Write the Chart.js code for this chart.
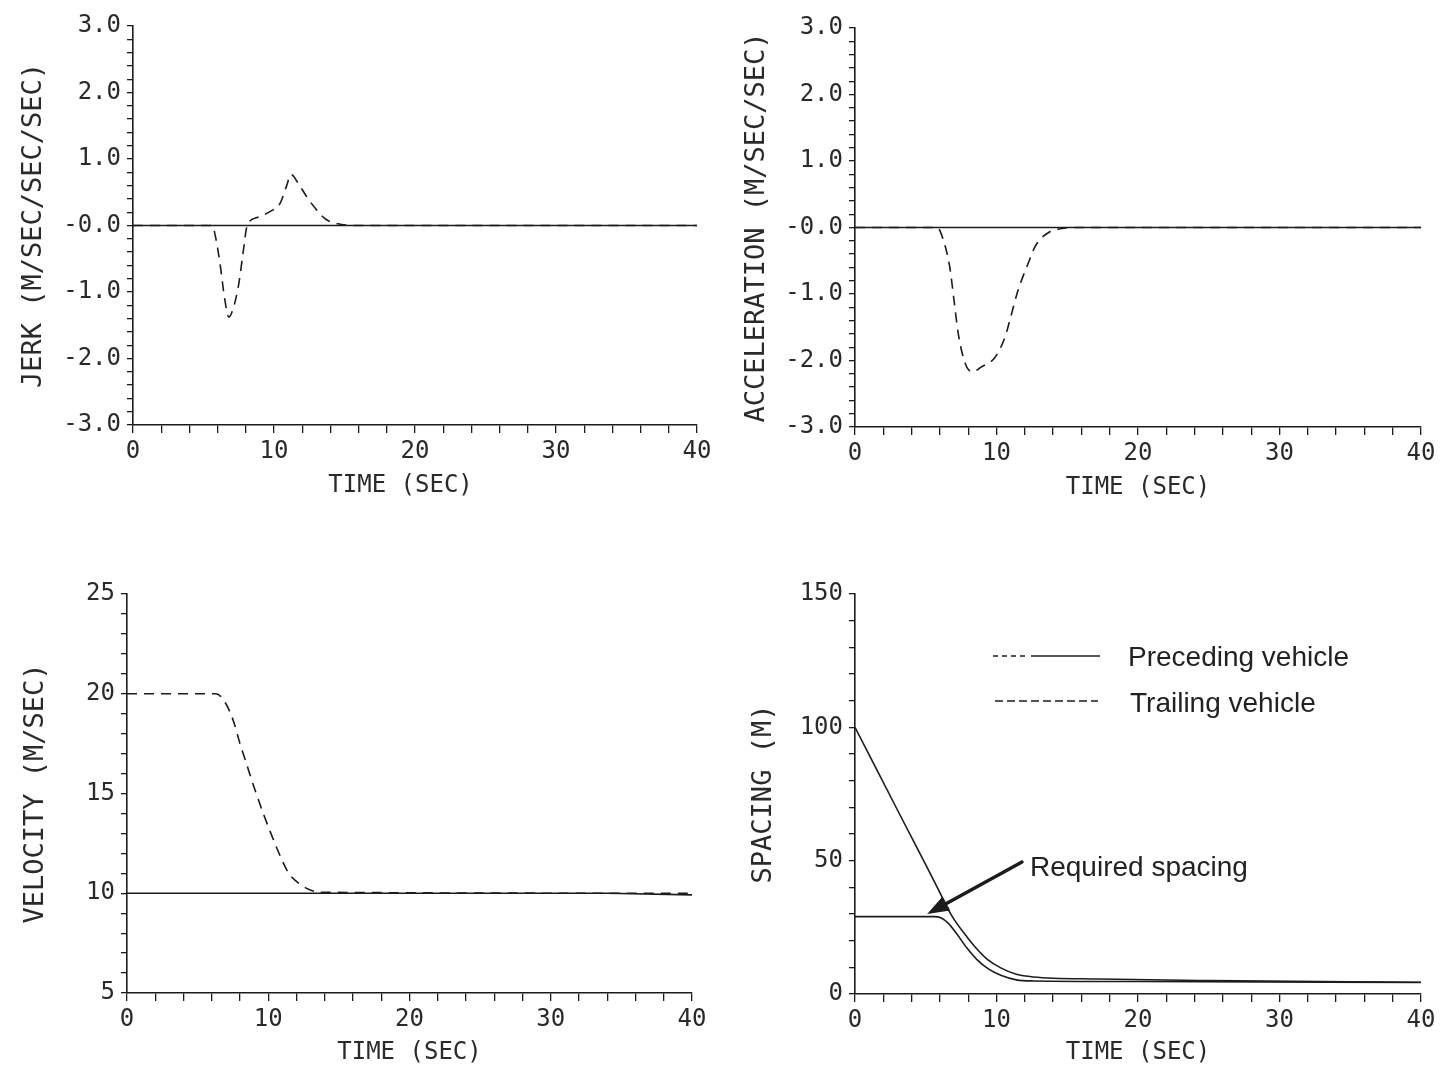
<!DOCTYPE html>
<html>
<head>
<meta charset="utf-8">
<script src="https://cdn.jsdelivr.net/npm/chart.js@4.4.1/dist/chart.umd.min.js"></script>
<style>
  html, body { margin: 0; padding: 0; background: #fff; }
  #wrap { position: relative; width: 1442px; height: 1067px; overflow: hidden; }
  .panel { position: absolute; }
</style>
</head>
<body>
<div id="wrap">
  <div class="panel" style="left:0;top:0;width:722px;height:520px"><canvas id="jerk"></canvas></div>
  <div class="panel" style="left:722px;top:0;width:720px;height:520px"><canvas id="accel"></canvas></div>
  <div class="panel" style="left:0;top:540px;width:722px;height:527px"><canvas id="veloc"></canvas></div>
  <div class="panel" style="left:722px;top:540px;width:720px;height:527px"><canvas id="spacing"></canvas></div>
</div>
<script>
// ---- data ----
const timeTickValues = [0, 10, 20, 30, 40];
const timeTickLabels = ['0', '10', '20', '30', '40'];

const jerkTickValues = [3, 2, 1, 0, -1, -2, -3];
const jerkTickLabels = ['3.0', '2.0', '1.0', '-0.0', '-1.0', '-2.0', '-3.0'];
const accTickValues = [3, 2, 1, 0, -1, -2, -3];
const accTickLabels = ['3.0', '2.0', '1.0', '-0.0', '-1.0', '-2.0', '-3.0'];
const velTickValues = [25, 20, 15, 10, 5];
const velTickLabels = ['25', '20', '15', '10', '5'];
const spcTickValues = [150, 100, 50, 0];
const spcTickLabels = ['150', '100', '50', '0'];

// jerk (m/s^3)
const jerkLeadT = [0, 40];
const jerkLead = [0, 0];
const jerkTrailT = [0, 5.6, 5.9, 6.2, 6.5, 6.8, 7.1, 7.5, 7.8, 8.1, 8.8, 9.8, 10.4, 10.9, 11.2, 11.7, 12.3, 13.0, 13.7, 14.7, 15.7, 40];
const jerkTrail = [0, 0, -0.22, -0.62, -1.1, -1.38, -1.25, -0.88, -0.42, 0, 0.12, 0.22, 0.32, 0.6, 0.77, 0.64, 0.44, 0.24, 0.09, 0.02, 0, 0];

// acceleration (m/s^2)
const accLeadT = [0, 40];
const accLead = [0, 0];
const accTrailT = [0, 5.8, 6.2, 6.7, 7.0, 7.3, 7.8, 8.3, 8.9, 9.9, 10.6, 11.0, 11.5, 12.2, 12.8, 13.8, 14.5, 15.2, 40];
const accTrail = [0, 0, -0.16, -0.6, -1.1, -1.6, -2.05, -2.17, -2.1, -1.95, -1.65, -1.35, -0.96, -0.56, -0.26, -0.06, -0.02, 0, 0];

// velocity (m/s)
const velLeadT = [0, 34, 40];
const velLead = [10, 10, 9.92];
const velTrailT = [0, 6.3, 7.0, 7.55, 8.0, 8.5, 9.1, 9.7, 10.3, 10.85, 11.45, 12.4, 12.85, 13.6, 40];
const velTrail = [20, 20, 19.5, 18.6, 17.5, 16.4, 15.1, 13.9, 12.8, 11.86, 11.0, 10.38, 10.2, 10.05, 10];

// spacing (m): actual gap and required gap
const gapT = [0, 3, 6.0, 6.5, 7.0, 7.9, 8.6, 9.4, 10.3, 11.4, 12.6, 17.3, 25, 40];
const gap = [100, 69, 38, 32.5, 28, 21.5, 17, 12.8, 9.8, 7.4, 6.4, 5.6, 5.0, 4.4];
const reqGapT = [0, 5.6, 6.1, 6.6, 7.2, 7.9, 8.6, 9.4, 10.3, 11.4, 12.6, 20, 40];
const reqGap = [29, 29, 28.5, 26.5, 22.5, 17.3, 13, 9.5, 7.0, 5.3, 4.9, 4.7, 4.3];

// ---- styling ----
const INK = '#1c1c1c';
const MONO = "'DejaVu Sans Mono', monospace";
const SANS = "'Liberation Sans', Arial, sans-serif";

function pickLabel(values, labels) {
  return (v) => {
    const i = values.findIndex(t => Math.abs(t - v) < 1e-6);
    return i < 0 ? '' : labels[i];
  };
}

function series(t, v, dashed, smooth) {
  return {
    data: t.map((x, i) => ({ x: x, y: v[i] })),
    borderColor: INK,
    borderWidth: 1.6,
    borderDash: dashed ? [10, 7] : [],
    pointRadius: 0,
    fill: false,
    tension: 0,
    cubicInterpolationMode: smooth ? 'monotone' : 'default'
  };
}

function makePanel(id, box, yAxis, datasets, extra) {
  return new Chart(document.getElementById(id), {
    type: 'line',
    data: { datasets: datasets },
    options: {
      responsive: true,
      maintainAspectRatio: false,
      animation: false,
      layout: { padding: { left: 0, top: box.top, right: box.right, bottom: 0 } },
      plugins: { legend: { display: false }, tooltip: { enabled: false } },
      scales: {
        x: {
          type: 'linear', min: 0, max: 40,
          afterFit: (s) => { s.height = box.xh; },
          border: { display: true, color: INK, width: 1.6 },
          grid: { drawOnChartArea: false, drawTicks: true, tickLength: 8, color: INK, lineWidth: 1.3 },
          ticks: {
            stepSize: 2, autoSkip: false, maxRotation: 0, padding: 4, color: '#2a2a2a',
            font: { family: MONO, size: 24 },
            callback: pickLabel(timeTickValues, timeTickLabels)
          },
          title: {
            display: true, text: box.xTitle || 'TIME (SEC)', color: '#2a2a2a',
            font: { family: MONO, size: 24 },
            padding: { top: 0, bottom: box.xtp }
          }
        },
        y: {
          type: 'linear', min: yAxis.min, max: yAxis.max,
          afterFit: (s) => { s.width = box.yw; },
          border: { display: true, color: INK, width: 1.6 },
          grid: { drawOnChartArea: false, drawTicks: true, tickLength: 6, color: INK, lineWidth: 1.3 },
          ticks: {
            stepSize: yAxis.step, autoSkip: false, padding: 6, color: '#2a2a2a',
            font: { family: MONO, size: 24 },
            callback: pickLabel(yAxis.values, yAxis.labels)
          },
          title: {
            display: true, text: yAxis.title, color: '#2a2a2a',
            font: { family: MONO, size: 27 },
            padding: { top: box.ytp, bottom: 0 }
          }
        }
      }
    },
    plugins: extra || []
  });
}

// legend + "Required spacing" note, drawn in the spacing panel
const spacingNotes = {
  id: 'spacingNotes',
  afterDatasetsDraw(chart) {
    const { ctx, chartArea: a, scales: { x, y } } = chart;
    ctx.save();
    ctx.strokeStyle = INK;
    ctx.fillStyle = '#222';
    ctx.lineWidth = 1.6;

    // legend samples
    const lx = a.left + 138, ly1 = a.top + 62, ly2 = a.top + 107;
    ctx.setLineDash([5, 4]);
    ctx.beginPath(); ctx.moveTo(lx, ly1); ctx.lineTo(lx + 36, ly1); ctx.stroke();
    ctx.setLineDash([]);
    ctx.beginPath(); ctx.moveTo(lx + 38, ly1); ctx.lineTo(lx + 107, ly1); ctx.stroke();
    ctx.setLineDash([8, 4]);
    ctx.beginPath(); ctx.moveTo(lx + 2, ly2); ctx.lineTo(lx + 105, ly2); ctx.stroke();
    ctx.setLineDash([]);

    ctx.font = '28px ' + SANS;
    ctx.textBaseline = 'middle';
    ctx.textAlign = 'left';
    ctx.fillText('Preceding vehicle', lx + 135, ly1 + 2);
    ctx.fillText('Trailing vehicle', lx + 137, ly2 + 3);

    // arrow pointing at the required spacing curve
    const tx = x.getPixelForValue(11.8), ty = y.getPixelForValue(49.5);
    const hx = x.getPixelForValue(5.1), hy = y.getPixelForValue(30.0);
    const ang = Math.atan2(hy - ty, hx - tx);
    const hl = 22, hw = 8;
    const bx = hx - hl * Math.cos(ang), by = hy - hl * Math.sin(ang);
    ctx.lineWidth = 3.5;
    ctx.lineCap = 'round';
    ctx.beginPath(); ctx.moveTo(tx, ty); ctx.lineTo(bx, by); ctx.stroke();
    ctx.beginPath();
    ctx.moveTo(hx, hy);
    ctx.lineTo(bx + hw * Math.sin(ang), by - hw * Math.cos(ang));
    ctx.lineTo(bx - hw * Math.sin(ang), by + hw * Math.cos(ang));
    ctx.closePath();
    ctx.fillStyle = INK;
    ctx.fill();

    ctx.fillStyle = '#222';
    ctx.fillText('Required spacing', tx + 8, ty + 6);
    ctx.restore();
  }
};

makePanel('jerk',
  { top: 26, right: 25, xh: 95, yw: 133, xtp: 20, ytp: 18, xTitle: 'TIME (SEC)  ' },
  { min: -3, max: 3, step: 0.2, values: jerkTickValues, labels: jerkTickLabels, title: 'JERK (M/SEC/SEC/SEC)' },
  [series(jerkLeadT, jerkLead, false, false), series(jerkTrailT, jerkTrail, true, true)]);

makePanel('accel',
  { top: 28, right: 21, xh: 93, yw: 133, xtp: 18, ytp: 19 },
  { min: -3, max: 3, step: 0.2, values: accTickValues, labels: accTickLabels, title: 'ACCELERATION (M/SEC/SEC)' },
  [series(accLeadT, accLead, false, false), series(accTrailT, accTrail, true, true)]);

makePanel('veloc',
  { top: 54, right: 30, xh: 74, yw: 127, xtp: 0, ytp: 20 },
  { min: 5, max: 25, step: 1, values: velTickValues, labels: velTickLabels, title: 'VELOCITY (M/SEC)' },
  [series(velLeadT, velLead, false, false), series(velTrailT, velTrail, true, true)]);

makePanel('spacing',
  { top: 54, right: 21, xh: 73, yw: 133, xtp: 0, ytp: 26 },
  { min: 0, max: 150, step: 10, values: spcTickValues, labels: spcTickLabels, title: 'SPACING (M)' },
  [series(gapT, gap, false, true), series(reqGapT, reqGap, false, true)],
  [spacingNotes]);
</script>
</body>
</html>
